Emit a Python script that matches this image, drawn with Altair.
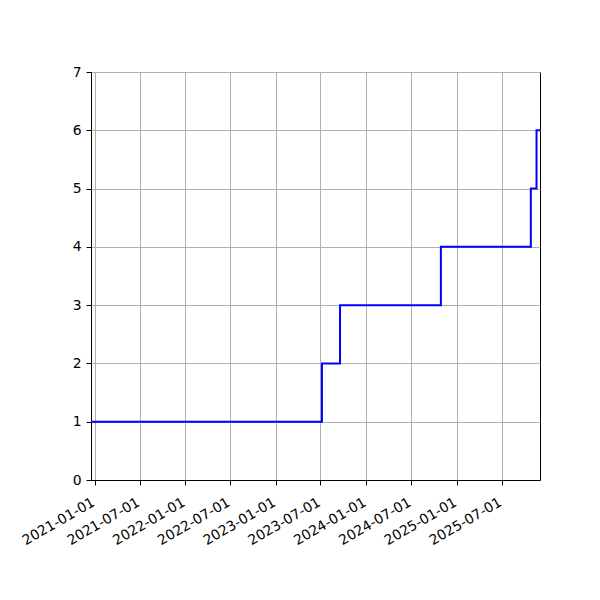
import altair as alt
import pandas as pd

dates = ["2020-12-17", "2023-07-07", "2023-09-18", "2024-10-29", "2025-10-27", "2025-11-19", "2025-12-03"]
counts = [1, 2, 3, 4, 5, 6, 6]
tick_dates = ["2021-01-01", "2021-07-01", "2022-01-01", "2022-07-01", "2023-01-01",
              "2023-07-01", "2024-01-01", "2024-07-01", "2025-01-01", "2025-07-01"]
y_ticks = [0, 1, 2, 3, 4, 5, 6, 7]

df = pd.DataFrame({"date": dates, "count": counts})


def dt(s):
    return alt.DateTime(year=int(s[:4]), month=int(s[5:7]), date=int(s[8:]), utc=True)


tick_vals = [dt(d) for d in tick_dates]

chart = alt.Chart(df).mark_line(interpolate="step-after", color="#0000ff", strokeWidth=2, clip=True).encode(
    x=alt.X("date:T",
            scale=alt.Scale(type="utc", domain=[dt(dates[0]), dt(dates[-1])], nice=False),
            axis=alt.Axis(values=tick_vals, format="%Y-%m-%d", labelAngle=330, labelAlign="right",
                          labelBaseline="top", labelOverlap=False, labelBound=False,
                          labelOffset=-5, labelPadding=10, title=None, grid=True)),
    y=alt.Y("count:Q", scale=alt.Scale(domain=[0, 7], nice=False),
            axis=alt.Axis(values=y_ticks, title=None, grid=True, format="d", labelPadding=5)),
).properties(
    width=449, height=408,
    autosize=alt.AutoSizeParams(type="none"),
    padding={"left": 83, "top": 64, "right": 52, "bottom": 112},
).configure_axis(
    labelFont="DejaVu Sans", labelFontSize=13.9, labelColor="black",
    domainColor="black", tickColor="black", tickSize=5, domainWidth=1,
    gridColor="#b0b0b0", gridWidth=1,
).configure_view(stroke="black", strokeWidth=1)

chart.save("out.html", embed_options={"renderer": "svg", "actions": False})
